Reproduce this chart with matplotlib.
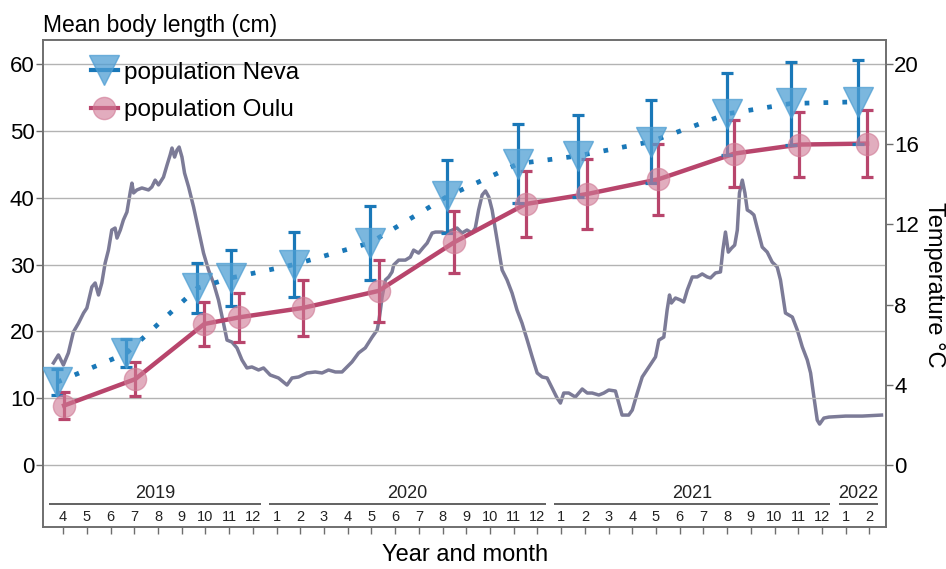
import matplotlib
matplotlib.use("Agg")
import matplotlib.pyplot as plt
from matplotlib.lines import Line2D

plt.rcParams['font.family'] = ['Liberation Sans', 'DejaVu Sans']

# ---- data ----
# month axis: index 0 = 2019-04
month_labels = ["4", "5", "6", "7", "8", "9", "10", "11", "12",
                "1", "2", "3", "4", "5", "6", "7", "8", "9", "10", "11", "12",
                "1", "2", "3", "4", "5", "6", "7", "8", "9", "10", "11", "12",
                "1", "2"]
years = ["2019", "2020", "2021", "2022"]
year_first = [0, 9, 21, 33]
year_last = [8, 20, 32, 34]

# sampling dates (fractional month index)
neva_t = [-0.25, 2.66, 5.65, 7.09, 9.75, 12.95, 16.2, 19.2, 21.7, 24.8, 28.0, 30.7, 33.5]
oulu_t = [0.04, 3.04, 5.95, 7.43, 10.1, 13.3, 16.5, 19.5, 22.1, 25.1, 28.3, 31.05, 33.9]

neva_len = [12.4, 16.7, 26.45, 28.0, 30.0, 33.25, 40.2, 45.1, 46.25, 48.4, 52.55, 54.1, 54.35]
neva_err = [1.9, 2.1, 3.75, 4.2, 4.9, 5.55, 5.5, 5.9, 6.15, 6.2, 6.15, 6.2, 6.25]
oulu_len = [8.9, 12.85, 21.1, 22.1, 23.5, 26.05, 33.35, 39.05, 40.55, 42.75, 46.6, 47.95, 48.1]
oulu_err = [2.0, 2.55, 3.3, 3.7, 4.2, 4.65, 4.65, 4.95, 5.25, 5.35, 5.0, 4.85, 5.0]

# water temperature (month index, degC)
temp_t = [-0.41, -0.20, 0.01, 0.22, 0.43, 0.65, 0.86, 1.00, 1.21, 1.35, 1.49, 1.63, 1.77, 1.91,
          2.05, 2.19, 2.27, 2.41, 2.54, 2.69, 2.83, 2.90, 2.97, 3.11, 3.32, 3.60, 3.74, 3.88,
          4.02, 4.23, 4.38, 4.51, 4.59, 4.70, 4.80, 4.89, 5.01, 5.12, 5.29, 5.50, 5.71, 5.92,
          6.13, 6.34, 6.55, 6.76, 6.91, 7.12, 7.33, 7.54, 7.75, 7.96, 8.24, 8.45, 8.73, 9.08,
          9.44, 9.65, 9.93, 10.28, 10.63, 10.92, 11.19, 11.48, 11.76, 11.97, 12.18, 12.46,
          12.74, 13.03, 13.24, 13.30, 13.38, 13.45, 13.59, 13.73, 13.87, 13.94, 14.15, 14.43,
          14.64, 14.78, 14.99, 15.20, 15.35, 15.56, 15.70, 15.98, 16.12, 16.61, 16.82, 17.03,
          17.24, 17.38, 17.52, 17.67, 17.81, 17.95, 18.09, 18.23, 18.37, 18.51, 18.72, 18.93,
          19.14, 19.35, 19.57, 19.78, 19.99, 20.20, 20.41, 20.62, 20.83, 20.97, 21.11, 21.32,
          21.60, 21.89, 22.10, 22.31, 22.59, 22.80, 23.01, 23.29, 23.43, 23.57, 23.85, 24.00,
          24.21, 24.42, 24.70, 24.98, 25.12, 25.33, 25.47, 25.57, 25.65, 25.82, 26.03, 26.17,
          26.32, 26.53, 26.74, 26.95, 27.16, 27.30, 27.51, 27.72, 27.82, 27.93, 28.05, 28.19,
          28.32, 28.43, 28.52, 28.64, 28.75, 28.85, 28.99, 29.13, 29.27, 29.48, 29.69, 29.90,
          30.11, 30.25, 30.46, 30.75, 30.96, 31.17, 31.38, 31.52, 31.66, 31.80, 31.90, 32.08,
          32.29, 33.00, 33.70, 34.51]
temp_c = [5.09, 5.49, 4.99, 5.59, 6.63, 7.08, 7.58, 7.83, 8.88, 9.08, 8.48, 9.08, 10.07, 10.72,
          11.72, 11.82, 11.32, 11.72, 12.22, 12.62, 13.62, 14.06, 13.57, 13.72, 13.82, 13.72,
          13.87, 14.21, 13.97, 14.36, 14.96, 15.46, 15.81, 15.36, 15.71, 15.86, 15.36, 14.56,
          13.87, 12.87, 11.72, 10.57, 9.73, 9.08, 8.23, 7.08, 6.23, 6.13, 5.84, 5.24, 4.84,
          4.89, 4.74, 4.84, 4.49, 4.34, 3.99, 4.34, 4.39, 4.59, 4.64, 4.59, 4.74, 4.64, 4.64,
          4.89, 5.14, 5.59, 5.84, 6.38, 6.73, 7.08, 7.73, 8.38, 9.23, 9.38, 9.63, 9.98, 10.22,
          10.22, 10.37, 10.72, 10.57, 10.87, 11.07, 11.57, 11.62, 11.62, 11.57, 11.82, 11.57,
          11.72, 11.57, 11.82, 12.72, 13.47, 13.67, 13.37, 12.72, 11.72, 10.72, 9.73, 9.23,
          8.58, 7.73, 7.08, 6.23, 5.39, 4.59, 4.39, 4.34, 3.84, 3.34, 3.09, 3.59, 3.59, 3.39,
          3.79, 3.59, 3.59, 3.49, 3.59, 3.74, 3.69, 3.09, 2.49, 2.49, 2.74, 3.59, 4.39, 4.89,
          5.39, 6.23, 6.38, 7.73, 8.48, 8.08, 8.33, 8.23, 8.13, 8.73, 9.38, 9.38, 9.53, 9.38,
          9.33, 9.58, 9.63, 10.72, 11.62, 10.62, 10.82, 10.97, 11.72, 13.57, 14.21, 13.57,
          12.72, 12.62, 12.47, 11.82, 10.87, 10.62, 10.12, 9.88, 9.23, 7.58, 7.38, 6.73, 5.89,
          5.24, 4.59, 3.39, 2.24, 2.04, 2.34, 2.39, 2.44, 2.44, 2.49]

# ---- style ----
c_neva = "#1a78b8"
c_neva_fill = "#4f9fd3"
c_oulu = "#b8456c"
c_oulu_fill = "#d07b96"
c_temp = "#7c7b97"
c_grid = "#b3b3b3"
c_spine = "#6e6e6e"

fig = plt.figure(figsize=(9.46, 5.69), dpi=100)
ax = fig.add_axes([43 / 946, 1 - 527 / 569, (886 - 43) / 946, (527 - 40) / 569])
ax2 = ax.twinx()
ax.set_zorder(ax2.get_zorder() + 1)
ax.patch.set_visible(False)

ylo, yhi = -9.28, 63.6
ax.set_ylim(ylo, yhi)
ax2.set_ylim(ylo / 3, yhi / 3)
ax.set_xlim(-0.85, 34.7)

# temperature
ax2.plot(temp_t, temp_c, color=c_temp, lw=2.5, solid_joinstyle='round', zorder=1)

# gridlines
for v in range(0, 61, 10):
    ax.axhline(v, color=c_grid, lw=1.0, zorder=0)

# Neva
ax.plot(neva_t, neva_len, color=c_neva, lw=3.4, dashes=(1, 3.0), dash_capstyle='butt', zorder=3)
ax.errorbar(neva_t, neva_len, yerr=neva_err, fmt='none', ecolor=c_neva, elinewidth=2.3,
            capsize=4, capthick=2.3, zorder=4)
ax.plot(neva_t, neva_len, linestyle='none', marker='v', markersize=21,
        markerfacecolor=c_neva_fill, markeredgecolor=c_neva_fill, alpha=0.75, zorder=5)

# Oulu
ax.plot(oulu_t, oulu_len, color=c_oulu, lw=3.2, zorder=3)
ax.errorbar(oulu_t, oulu_len, yerr=oulu_err, fmt='none', ecolor=c_oulu, elinewidth=2.3,
            capsize=4, capthick=2.3, zorder=4)
ax.plot(oulu_t, oulu_len, linestyle='none', marker='o', markersize=16,
        markerfacecolor=c_oulu_fill, markeredgecolor=c_oulu_fill, alpha=0.62, zorder=5)

# axes styling
for a in (ax, ax2):
    for s in a.spines.values():
        s.set_color(c_spine)
        s.set_linewidth(1.2)
ax.set_yticks(range(0, 61, 10))
ax.tick_params(axis='y', length=5, width=1, color=c_spine, pad=1, labelsize=16)
ax2.set_yticks(range(0, 21, 4))
ax2.tick_params(axis='y', length=5, width=1, color=c_spine, pad=1, labelsize=16)
ax.set_xticks(range(len(month_labels)))
ax.set_xticklabels([])
ax.tick_params(axis='x', length=5, width=1, color=c_spine, direction='out')

# month labels and year groups inside the plot
for i, lab in enumerate(month_labels):
    ax.text(i, -7.85, lab, ha='center', va='center', fontsize=10.5, color='#222222')
for k, (yr, f, l) in enumerate(zip(years, year_first, year_last)):
    x0 = f - (0.6 if k == 0 else 0.3)
    x1 = l + 0.35
    ax.plot([x0, x1], [-5.85, -5.85], color='#555555', lw=1.3, solid_capstyle='butt',
            clip_on=False, zorder=2)
    ax.text((x0 + x1) / 2, -4.2, yr, ha='center', va='center', fontsize=13, color='#222222')

# legend
handles = [
    Line2D([], [], color=c_neva, lw=3, marker='v', markersize=21,
           markerfacecolor=(0.31, 0.62, 0.83, 0.75), markeredgecolor=(0.31, 0.62, 0.83, 0.75)),
    Line2D([], [], color=c_oulu, lw=3, marker='o', markersize=16,
           markerfacecolor=(0.82, 0.48, 0.59, 0.62), markeredgecolor=(0.82, 0.48, 0.59, 0.62)),
]
ax.legend(handles, ["population Neva", "population Oulu"], loc='upper left',
          bbox_to_anchor=(0.057, 0.955), frameon=False, fontsize=17.5,
          handlelength=1.1, handletextpad=0.25, labelspacing=0.62, borderpad=0, borderaxespad=0)

# titles
fig.text(43 / 946, 1 - 32 / 569, "Mean body length (cm)", ha='left', va='baseline', fontsize=16.5)
fig.text(465 / 946, 1 - 555 / 569, "Year and month", ha='center', va='center', fontsize=17)
fig.text(934 / 946, 1 - 285 / 569, "Temperature °C", ha='center', va='center', rotation=-90,
         fontsize=17)

fig.savefig("out.png", dpi=100)
